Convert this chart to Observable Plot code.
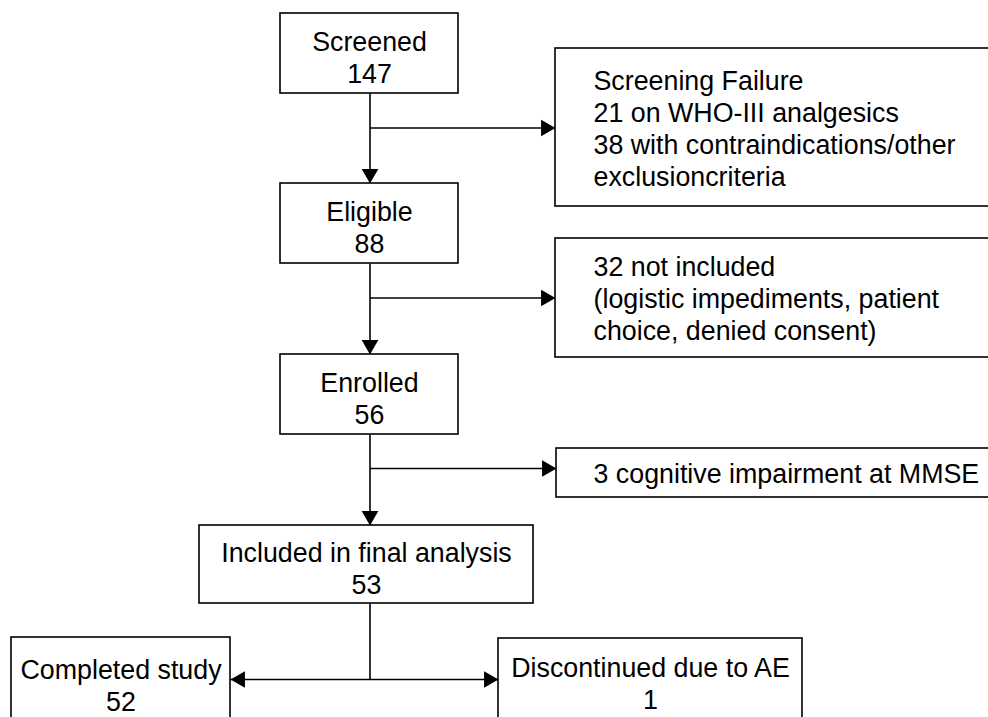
<!DOCTYPE html>
<html><head><meta charset="utf-8">
<script src="https://cdn.jsdelivr.net/npm/d3@7"></script>
<script src="https://cdn.jsdelivr.net/npm/@observablehq/plot@0.6"></script>
<style>html,body{margin:0;padding:0;background:#fff;overflow:hidden}</style>
</head><body><div id="chart"></div>
<script>
// ---- data ----
const stepLabels = ["Screened", "Eligible", "Enrolled", "Included in final analysis"];
const stepCounts = [147, 88, 56, 53];
const exclusionLines = [
  ["Screening Failure", "21 on WHO-III analgesics", "38 with contraindications/other", "exclusioncriteria"],
  ["32 not included", "(logistic impediments, patient", "choice, denied consent)"],
  ["3 cognitive impairment at MMSE"]
];
const outcomeLabels = ["Completed study", "Discontinued due to AE"];
const outcomeCounts = [52, 1];

// ---- layout (pixel geometry of the flowchart) ----
const W = 988, H = 717;
const spineX = 369.5;
const mainGeom = [
  {x1: 280, x2: 458, y1: 13, y2: 93},
  {x1: 280, x2: 458, y1: 183, y2: 263},
  {x1: 280, x2: 458, y1: 354, y2: 434},
  {x1: 199, x2: 533, y1: 525, y2: 603}
];
const sideGeom = [
  {x1: 555, y1: 48, y2: 206, branchY: 127.5},
  {x1: 555, y1: 238, y2: 357, branchY: 297.5},
  {x1: 556, y1: 448, y2: 497, branchY: 468}
];
const sideTextX = 593;
const outcomeGeom = [
  {x1: 11, x2: 230, y1: 637, ty: 684},
  {x1: 498, x2: 802, y1: 638, ty: 682}
];
const bottomY = 679;
const headR = 6.2;
const tipOffset = 2 * Math.sqrt(headR * headR * Math.PI / (3 * Math.sqrt(3)));

// ---- build tables ----
const mainBoxes = stepLabels.map((label, i) => ({
  ...mainGeom[i], text: `${label}\n${stepCounts[i]}`,
  tx: (mainGeom[i].x1 + mainGeom[i].x2) / 2, ty: (mainGeom[i].y1 + mainGeom[i].y2) / 2 + 3
}));
const sideBoxes = exclusionLines.map((lines, i) => ({
  ...sideGeom[i], x2: W + 20, text: lines.join("\n"), tx: sideTextX, ty: (sideGeom[i].y1 + sideGeom[i].y2) / 2
}));
const outBoxes = outcomeLabels.map((label, i) => ({
  ...outcomeGeom[i], y2: H + 30, text: `${label}\n${outcomeCounts[i]}`,
  tx: (outcomeGeom[i].x1 + outcomeGeom[i].x2) / 2
}));
const boxes = [...mainBoxes, ...sideBoxes, ...outBoxes];

const links = [];
const heads = [];
for (let i = 0; i < mainBoxes.length - 1; i++) {
  links.push({x1: spineX, y1: mainBoxes[i].y2, x2: spineX, y2: mainBoxes[i + 1].y1});
  heads.push({x: spineX, y: mainBoxes[i + 1].y1 - tipOffset, rot: 180});
  const s = sideBoxes[i];
  links.push({x1: spineX, y1: s.branchY, x2: s.x1, y2: s.branchY});
  heads.push({x: s.x1 - tipOffset, y: s.branchY, rot: 90});
}
const last = mainBoxes[mainBoxes.length - 1];
links.push({x1: spineX, y1: last.y2, x2: spineX, y2: bottomY});
links.push({x1: outBoxes[0].x2, y1: bottomY, x2: outBoxes[1].x1, y2: bottomY});
heads.push({x: outBoxes[0].x2 + tipOffset, y: bottomY, rot: -90});
heads.push({x: outBoxes[1].x1 - tipOffset, y: bottomY, rot: 90});

const font = "'Liberation Sans', Arial, Helvetica, sans-serif";
const fs = 26.8, lh = 32 / 26.8;

const chart = Plot.plot({
  width: W, height: H,
  margin: 0,
  x: {domain: [0, W], range: [0, W], axis: null},
  y: {domain: [0, H], range: [0, H], axis: null},
  style: {fontFamily: font, background: "white", overflow: "hidden"},
  marks: [
    Plot.link(links, {x1: "x1", y1: "y1", x2: "x2", y2: "y2", stroke: "#000", strokeWidth: 1.6}),
    Plot.rect(boxes, {x1: "x1", x2: "x2", y1: "y1", y2: "y2", fill: "white", stroke: "#000", strokeWidth: 1.6, clip: "frame"}),
    Plot.dot(heads, {x: "x", y: "y", rotate: "rot", symbol: "triangle", r: headR, fill: "#000", stroke: "none"}),
    Plot.text(mainBoxes, {x: "tx", y: "ty", text: "text", fontSize: fs, lineHeight: lh, lineAnchor: "middle", textAnchor: "middle", fill: "#000"}),
    Plot.text(sideBoxes, {x: "tx", y: "ty", text: "text", fontSize: fs, lineHeight: lh, lineAnchor: "middle", textAnchor: "start", fill: "#000"}),
    Plot.text(outBoxes, {x: "tx", y: "ty", text: "text", fontSize: fs, lineHeight: lh, lineAnchor: "middle", textAnchor: "middle", fill: "#000"})
  ]
});
document.getElementById("chart").appendChild(chart);
</script>
</body></html>
